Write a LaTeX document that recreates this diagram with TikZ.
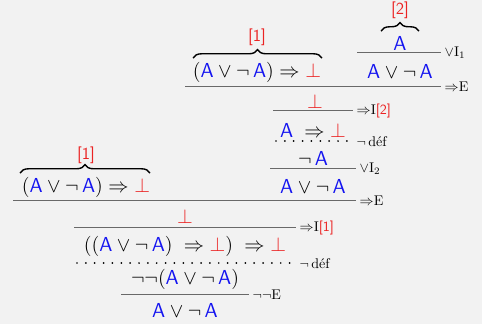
\documentclass[tikz,border=0pt]{standalone}
\usepackage{amssymb,amsmath}
\usetikzlibrary{decorations.pathreplacing}
\definecolor{propBlue}{RGB}{20,20,240}
\definecolor{hypRed}{RGB}{235,35,35}
\definecolor{ruleGray}{RGB}{105,105,105}
\definecolor{softGray}{RGB}{242,242,242}
\newcommand{\pA}{\textcolor{propBlue}{\mathsf{A}}}
\newcommand{\pbot}{\textcolor{hypRed}{\bot}}
\newcommand{\hyp}[1]{\textcolor{hypRed}{\textsf{[#1]}}}

\begin{document}
\begin{tikzpicture}[x=0.025cm,y=-0.025cm,
  frm/.style={inner sep=1pt,font=\fontsize{15}{17}\selectfont},
  hlab/.style={inner sep=1pt,font=\large},
  rlab/.style={anchor=west,inner sep=1pt,font=\normalsize},
  infer/.style={draw=ruleGray,line width=0.7pt},
  dotrule/.style={draw=black,line width=1.4pt,line cap=round,dash pattern=on 0pt off 6.3pt},
  hbrace/.style={decorate,decoration={brace,amplitude=6pt},line width=1pt}]
\fill[softGray] (0,0) rectangle (482,324);

\node[frm] (hA) at (400,43) {$\pA$};
\draw[hbrace] (381,31) -- (419,31);
\node[hlab] (h2) at (400,10) {\hyp{2}};
\node[frm] (orA) at (400,71) {$\pA \vee \neg\,\pA$};
\draw[infer] (357,52) -- (441,52);
\node[rlab] (r1) at (443,53) {$\vee$I$_1$};

\node[frm] (hyp1a) at (257,72) {$(\pA \vee \neg\,\pA) \Rightarrow \pbot$};
\draw[hbrace] (193,58) -- (322,58);
\node[hlab] (l1a) at (257,37) {\hyp{1}};

\draw[infer] (185,86) -- (441,86);
\node[rlab] (r2) at (443,87) {$\Rightarrow$E};

\node[frm] (botA) at (315,101) {$\pbot$};
\draw[infer] (273,110) -- (353,110);
\node[rlab] (r3) at (355,111) {$\Rightarrow$I\hyp{2}};
\node[frm] (impA) at (313,130) {$\pA \;\Rightarrow \pbot$};
\draw[dotrule] (276,141) -- (351,141);
\node[rlab] (r4) at (355,142) {$\neg\,$déf};
\node[frm] (negA) at (313,158) {$\neg\,\pA$};
\draw[infer] (270,168) -- (356,168);
\node[rlab] (r5) at (358,169) {$\vee$I$_2$};
\node[frm] (orB) at (313,186) {$\pA \vee \neg\,\pA$};

\node[frm] (hyp1b) at (86,187) {$(\pA \vee \neg\,\pA) \Rightarrow \pbot$};
\draw[hbrace] (20,173) -- (150,173);
\node[hlab] (l1b) at (86,155) {\hyp{1}};

\draw[infer] (13,200) -- (356,200);
\node[rlab] (r6) at (358,201) {$\Rightarrow$E};

\node[frm] (botB) at (185,216) {$\pbot$};
\draw[infer] (74,227) -- (296,227);
\node[rlab] (r7) at (298,228) {$\Rightarrow$I\hyp{1}};
\node[frm] (dneg) at (185,246) {$((\pA \vee \neg\,\pA) \;\Rightarrow \pbot) \;\Rightarrow \pbot$};
\draw[dotrule] (77,263) -- (294,263);
\node[rlab] (r8) at (298,264) {$\neg\,$déf};
\node[frm] (nnor) at (185,279) {$\neg\neg(\pA \vee \neg\,\pA)$};
\draw[infer] (121,294) -- (249,294);
\node[rlab] (r9) at (251,295) {$\neg\neg$E};
\node[frm] (concl) at (185,310) {$\pA \vee \neg\,\pA$};
\end{tikzpicture}
\end{document}
